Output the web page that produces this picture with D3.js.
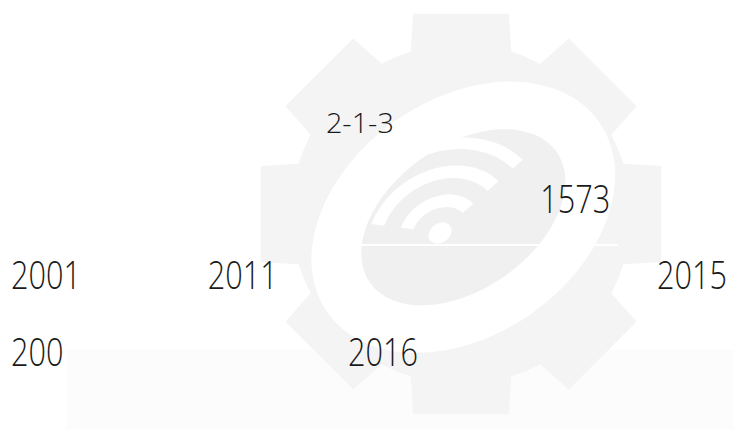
<!DOCTYPE html>
<html>
<head>
<meta charset="utf-8">
<script src="https://cdn.jsdelivr.net/npm/d3@7"></script>
<style>
  html, body { margin: 0; padding: 0; background: #fff; }
  svg { display: block; }
</style>
</head>
<body>
<svg id="chart"></svg>
<script>
// labels and where they sit (percent of width / height, baseline)
var labels = ["2-1-3", "1573", "2001", "2011", "2015", "200", "2016"];
var labelCol = [44.4, 73.6, 1.5, 28.3, 89.5, 1.5, 47.4];
var labelRow = [30.9, 49.5, 67.2, 67.2, 67.2, 85.1, 85.1];
var labelKind = ["small", "big", "big", "big", "big", "big", "big"];

var width = 734, height = 430;

var svg = d3.select("#chart")
    .attr("width", width)
    .attr("height", height);

var x = d3.scaleLinear().domain([0, 100]).range([0, width]);
var y = d3.scaleLinear().domain([0, 100]).range([0, height]);

// faint panel at the bottom
svg.append("rect")
    .attr("x", 66).attr("y", 350)
    .attr("width", width - 66).attr("height", height - 350)
    .attr("fill", "#fcfcfc");

// gear watermark
var cx = 461, cy = 214;
var logo = svg.append("g").attr("transform", "translate(" + cx + "," + cy + ")");

var teeth = 8, rOut = 206, rIn = 170;
var pts = [];
for (var i = 0; i < teeth; i++) {
    var a = i * 2 * Math.PI / teeth;
    var hw = 0.235, hb = 0.3;
    pts.push([a - hb, rIn], [a - hw, rOut], [a + hw, rOut], [a + hb, rIn]);
    pts.push([a + Math.PI / teeth, rIn]);
}
logo.append("path")
    .attr("d", d3.lineRadial().angle(d => d[0]).radius(d => d[1]).curve(d3.curveLinearClosed)(pts))
    .attr("fill", "#f4f4f4");

// white swoosh ring (tilted ellipse)
var tilt = logo.append("g").attr("transform", "rotate(-35)");
tilt.append("ellipse")
    .attr("cx", 0).attr("cy", 4).attr("rx", 166).attr("ry", 118)
    .attr("fill", "#ffffff");
tilt.append("ellipse")
    .attr("cx", 0).attr("cy", 4).attr("rx", 114).attr("ry", 72)
    .attr("fill", "#f0f0f0");

// wifi arcs
var wifi = logo.append("g").attr("transform", "translate(-21,19) rotate(-35) scale(1.12,0.88) rotate(35)");
[[27, 40], [57, 70], [87, 99]].forEach(function (r) {
    wifi.append("path")
        .attr("d", d3.arc()({ innerRadius: r[0], outerRadius: r[1], startAngle: -Math.PI * 0.42, endAngle: Math.PI * 0.26, cornerRadius: 6 }))
        .attr("fill", "#ffffff");
});
wifi.append("circle").attr("r", 11).attr("fill", "#ffffff");

// thin seam across the logo
svg.append("rect")
    .attr("x", 323).attr("y", 244)
    .attr("width", 295).attr("height", 2)
    .attr("fill", "#ffffff");

// labels
svg.append("g")
    .selectAll("text")
    .data(labels)
    .join("text")
    .attr("x", (d, i) => x(labelCol[i]))
    .attr("y", (d, i) => y(labelRow[i]))
    .attr("font-family", "'Open Sans', 'Noto Sans', sans-serif")
    .attr("font-weight", 300)
    .attr("font-size", (d, i) => labelKind[i] === "small" ? 27 : 38)
    .attr("textLength", (d, i) => labelKind[i] === "small" ? 68 : d.length * 17.5)
    .attr("lengthAdjust", "spacingAndGlyphs")
    .attr("fill", "#1a1a1a")
    .text(d => d);
</script>
</body>
</html>
